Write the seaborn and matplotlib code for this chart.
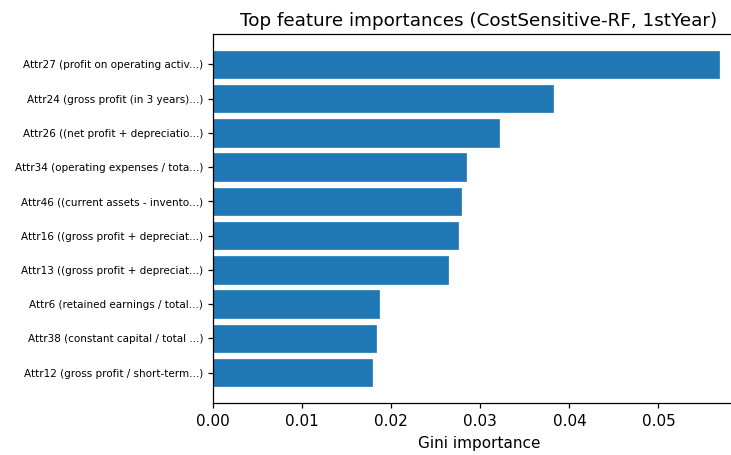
import matplotlib
matplotlib.use("Agg")
import matplotlib.pyplot as plt
import seaborn as sns
import pandas as pd

features = [
    "Attr27 (profit on operating activ...)",
    "Attr24 (gross profit (in 3 years)...)",
    "Attr26 ((net profit + depreciatio...)",
    "Attr34 (operating expenses / tota...)",
    "Attr46 ((current assets - invento...)",
    "Attr16 ((gross profit + depreciat...)",
    "Attr13 ((gross profit + depreciat...)",
    "Attr6 (retained earnings / total...)",
    "Attr38 (constant capital / total ...)",
    "Attr12 (gross profit / short-term...)",
]
importances = [0.0568, 0.0382, 0.0321, 0.0284, 0.0278, 0.0275, 0.0264, 0.0186, 0.0183, 0.0178]

title = "Top feature importances (CostSensitive-RF, 1stYear)"
xlabel = "Gini importance"

plt.rcParams["font.family"] = ["DejaVu Sans"]
plt.rcParams["axes.linewidth"] = 0.9
plt.rcParams["xtick.major.width"] = 0.9
plt.rcParams["ytick.major.width"] = 0.9
plt.rcParams["xtick.major.size"] = 3.7
plt.rcParams["ytick.major.size"] = 3.7

df = pd.DataFrame({"feature": features, "importance": importances})

fig = plt.figure(figsize=(7.31, 4.55), dpi=100)
ax = fig.add_axes([213.3 / 731, 52 / 455, 531 / 731, 369 / 455])
sns.barplot(data=df, x="importance", y="feature", orient="h", color="#1f77b4",
            saturation=1, width=0.8, ax=ax, edgecolor="#1f77b4", linewidth=0.5)

n = len(features)
ax.set_ylim(n - 1 + 0.4 + 0.49, -0.4 - 0.49)
ax.set_xlim(0, max(importances) * 1.05)
ax.set_xticks([0.0, 0.01, 0.02, 0.03, 0.04, 0.05])
ax.set_xticklabels(["0.00", "0.01", "0.02", "0.03", "0.04", "0.05"])
ax.tick_params(axis="x", labelsize=11, pad=4)
ax.tick_params(axis="y", labelsize=7.5)
ax.set_xlabel(xlabel, fontsize=11, labelpad=5)
ax.set_ylabel("")
ax.set_title(title, fontsize=13.2)
for s in ax.spines.values():
    s.set_visible(True)

fig.savefig("out.png", dpi=100)
